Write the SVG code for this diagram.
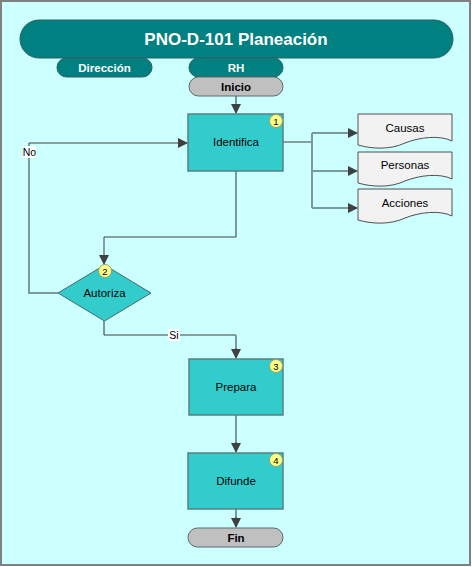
<svg xmlns="http://www.w3.org/2000/svg" width="472" height="567" viewBox="0 0 472 567">
  <defs>
    <marker id="arr" markerWidth="10" markerHeight="10" refX="9" refY="5" orient="auto" markerUnits="userSpaceOnUse">
      <path d="M0,0 L10,5 L0,10 Z" fill="#404040"/>
    </marker>
  </defs>
  <style>
    .lane { fill: #008080; stroke: #2f5f5f; stroke-width: 1; }
    .term { fill: #c0c0c0; stroke: #5a6a6a; stroke-width: 1; }
    .task { fill: #33cccc; stroke: #5a8080; stroke-width: 1.5; }
    .doc { fill: #f2f2f2; stroke: #505050; stroke-width: 1; }
    .num { fill: #ffff88; stroke: #a0a060; stroke-width: 1; }
    .t { font-family: "Liberation Sans", "DejaVu Sans", sans-serif; font-size: 11.5px; fill: #000; text-anchor: middle; dominant-baseline: central; }
    .tw { font-family: "Liberation Sans", "DejaVu Sans", sans-serif; font-weight: bold; font-size: 11.5px; fill: #fff; text-anchor: middle; dominant-baseline: central; }
    .tb { font-family: "Liberation Sans", "DejaVu Sans", sans-serif; font-weight: bold; font-size: 11.5px; fill: #000; text-anchor: middle; dominant-baseline: central; }
    .tn { font-family: "Liberation Sans", "DejaVu Sans", sans-serif; font-size: 9.5px; fill: #000; text-anchor: middle; dominant-baseline: central; }
    .dk { fill: none; stroke: #404040; stroke-width: 1; }
    .gr { fill: none; stroke: #7a9a9a; stroke-width: 2; }
  </style>

  <!-- page -->
  <rect x="1" y="1" width="469" height="564" fill="#ccffff" stroke="#808080" stroke-width="2"/>

  <!-- headers -->
  <g id="title">
    <rect class="lane" x="20" y="20" width="433" height="38" rx="19"/>
    <text class="tw" x="236" y="39" style="font-size:17px">PNO-D-101 Planeación</text>
  </g>
  <g id="lane-direccion">
    <rect class="lane" x="57" y="58" width="95" height="19" rx="9.5"/>
    <text class="tw" x="104.5" y="67.5">Dirección</text>
  </g>
  <g id="lane-rh">
    <rect class="lane" x="189" y="58" width="94" height="19" rx="9.5"/>
    <text class="tw" x="236" y="67.5">RH</text>
  </g>

  <!-- connectors -->
  <g id="connectors">
    <path class="gr" d="M236,96 V104"/>
    <path class="dk" d="M236,104 V113" marker-end="url(#arr)"/>
    <!-- outputs of Identifica -->
    <path class="dk" d="M283,142 H312"/>
    <path class="gr" d="M312,133 V208"/>
    <path class="gr" d="M312,133 H350"/>
    <path class="gr" d="M312,171 H350"/>
    <path class="gr" d="M312,208 H350"/>
    <path class="dk" d="M348,133 H357" marker-end="url(#arr)"/>
    <path class="dk" d="M348,171 H357" marker-end="url(#arr)"/>
    <path class="dk" d="M348,208 H357" marker-end="url(#arr)"/>
    <!-- Identifica to Autoriza -->
    <path class="gr" d="M236,171 V237"/>
    <path class="dk" d="M236,237 H104 V264" marker-end="url(#arr)"/>
    <!-- No loop -->
    <path class="gr" d="M58,293 H29 V143"/>
    <path class="dk" d="M29,143 H187" marker-end="url(#arr)"/>
    <!-- Si -->
    <path class="gr" d="M104,321 V335"/>
    <path class="dk" d="M104,335 H236"/>
    <path class="gr" d="M236,335 V350"/>
    <path class="dk" d="M236,348 V358" marker-end="url(#arr)"/>
    <!-- Prepara to Difunde -->
    <path class="gr" d="M236,415 V444"/>
    <path class="dk" d="M236,442 V452" marker-end="url(#arr)"/>
    <!-- Difunde to Fin -->
    <path class="gr" d="M236,509 V519"/>
    <path class="dk" d="M236,517 V527" marker-end="url(#arr)"/>
    <rect x="23" y="146" width="13" height="12" fill="#ffffff"/>
    <text class="t" x="29.5" y="152" style="font-size:10.5px">No</text>
    <rect x="168" y="329" width="12" height="12" fill="#ffffff"/>
    <text class="t" x="174" y="335" style="font-size:10.5px">Si</text>
  </g>

  <!-- nodes -->
  <g id="inicio">
    <rect class="term" x="189" y="77" width="94" height="19" rx="9.5"/>
    <text class="tb" x="236" y="86.5">Inicio</text>
  </g>

  <g id="identifica">
    <rect class="task" x="188" y="114" width="95" height="57"/>
    <text class="t" x="236" y="142">Identifica</text>
    <circle class="num" cx="276" cy="121" r="6.5"/>
    <text class="tn" x="276" y="121">1</text>
  </g>

  <g id="doc-causas">
    <path class="doc" d="M358,114 H452 V141 C440,135 420,137 405,143 C390,150 372,149 358,145 Z"/>
    <text class="t" x="405" y="128">Causas</text>
  </g>
  <g id="doc-personas">
    <path class="doc" d="M358,152 H452 V179 C440,173 420,175 405,181 C390,188 372,187 358,183 Z"/>
    <text class="t" x="405" y="165">Personas</text>
  </g>
  <g id="doc-acciones">
    <path class="doc" d="M358,189 H452 V216 C440,210 420,212 405,218 C390,225 372,224 358,220 Z"/>
    <text class="t" x="405" y="203">Acciones</text>
  </g>

  <g id="autoriza">
    <path class="task" style="stroke:#4a6a6a;stroke-width:1" d="M104.5,265 L151,293 L104.5,321 L58,293 Z"/>
    <text class="t" x="104.5" y="293">Autoriza</text>
    <circle class="num" cx="105" cy="271" r="6.5"/>
    <text class="tn" x="105" y="271">2</text>
  </g>

  <g id="prepara">
    <rect class="task" x="189" y="359" width="94" height="56"/>
    <text class="t" x="236" y="387">Prepara</text>
    <circle class="num" cx="276" cy="366" r="6.5"/>
    <text class="tn" x="276" y="366">3</text>
  </g>

  <g id="difunde">
    <rect class="task" x="188" y="453" width="95" height="56"/>
    <text class="t" x="236" y="481">Difunde</text>
    <circle class="num" cx="276" cy="460" r="6.5"/>
    <text class="tn" x="276" y="460">4</text>
  </g>

  <g id="fin">
    <rect class="term" x="188" y="528" width="95" height="19" rx="9.5"/>
    <text class="tb" x="236" y="537.5">Fin</text>
  </g>
</svg>
